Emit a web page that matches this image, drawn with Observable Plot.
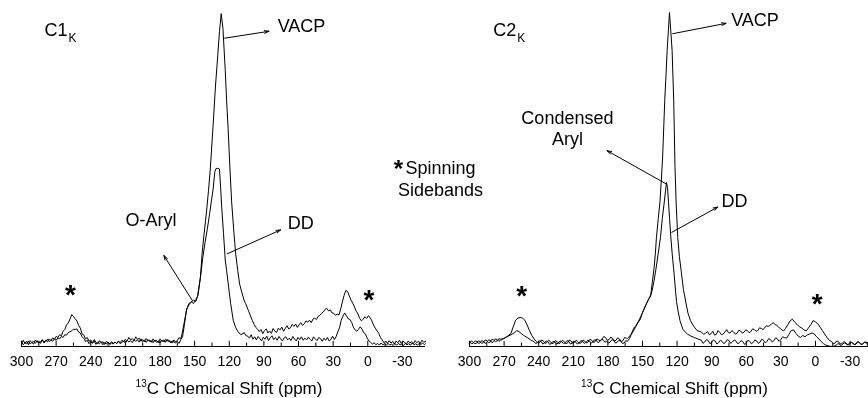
<!DOCTYPE html>
<html><head><meta charset="utf-8">
<script src="https://cdn.jsdelivr.net/npm/d3@7"></script>
<script src="https://cdn.jsdelivr.net/npm/@observablehq/plot@0.6"></script>
<style>
body{margin:0;background:#fff;}
#wrap{position:relative;width:868px;height:398px;overflow:hidden;background:#fff;}
#wrap svg{position:absolute;top:0;overflow:visible;background:transparent;will-change:transform;}
</style></head><body><div id="wrap"></div>
<script>
// ---- data: [ppm, intensity (a.u., 0-100)] ----
const c1VACP = [[300,0.6],[298.5,1.8],[297,0.9],[295.5,1.5],[294,0.5],[292.5,1.7],[291,1.1],[289.5,0.7],[288,1.9],[286.5,1.2],[285,1.6],[283.5,0.9],[282,2.0],[280.5,1.3],[279,1.8],[277.5,1.4],[276,2.2],[274.5,1.7],[273,2.5],[271.5,2.1],[270,2.9],[268.5,2.6],[267,3.4],[265.5,3.1],[264,4.4],[262.5,4.9],[261,6.2],[259.5,6.8],[258,7.9],[256.5,9.2],[255,8.7],[253.5,8.0],[252,7.4],[250.5,6.1],[249,5.3],[247.5,3.6],[246,3.3],[244.5,2.2],[243,2.6],[241.5,1.5],[240,1.9],[238.5,1.0],[237,2.0],[235.5,1.2],[234,0.8],[232.5,1.7],[231,1.0],[229.5,1.4],[228,0.6],[226.5,1.5],[225,1.1],[223.5,0.7],[222,1.4],[220.5,0.9],[219,1.3],[217.5,0.8],[216,1.6],[214.5,1.1],[213,1.8],[211.5,1.4],[210,2.1],[208.5,1.6],[207,2.6],[205.5,1.9],[204,2.3],[202.5,1.7],[201,2.8],[199.5,2.0],[198,2.4],[196.5,1.5],[195,2.0],[193.5,1.4],[192,2.3],[190.5,1.6],[189,1.9],[187.5,1.2],[186,2.2],[184.5,1.5],[183,1.8],[181.5,1.1],[180,2.2],[178.5,1.5],[177,1.9],[175.5,1.2],[174,2.1],[172.5,1.4],[171,1.6],[169.5,1.0],[168,1.9],[166.5,1.3],[165,1.7],[163.5,2.6],[162,2.2],[161,3.5],[159,7.0],[157,10.5],[155,12.4],[153,12.8],[151,13.4],[149,13.0],[147,15.0],[145,20],[143.5,27],[142,32],[140,38],[138,45],[136.5,51],[134,64],[132,75],[130,84],[128.5,91],[127,96.2],[125.5,92],[124.5,86],[123.5,80],[122.3,71],[121,63],[119.5,52],[118,42],[116,33],[114.5,27],[112.7,22],[111,18],[109,15.5],[107,13.2],[105.8,12.4],[103,10],[100,7.5],[98.5,6.4],[97,5.5],[95.5,5.0],[94,4.3],[92.5,4.9],[91,3.7],[89.5,4.6],[88,5.1],[86.5,3.9],[85,4.5],[83.5,3.8],[82,5.2],[80.5,4.4],[79,4.1],[77.5,5.3],[76,4.8],[74.5,5.6],[73,4.4],[71.5,5.2],[70,6.0],[68.5,5.1],[67,5.4],[65.5,6.4],[64,5.8],[62.5,6.5],[61,5.5],[59.5,6.3],[58,6.9],[56.5,6.1],[55,6.6],[53.5,7.4],[52,7.0],[50.5,7.6],[49,6.9],[47.5,7.9],[46,8.2],[44.5,7.8],[43,8.7],[41.5,9.0],[40,9.6],[38.5,10.0],[37,10.7],[35.5,11.0],[34,10.3],[32.5,10.6],[31,9.7],[29.5,9.6],[28,9.0],[26.5,9.4],[25,9.1],[23.5,10.8],[22,12.9],[20.5,14.8],[19,16.2],[17.5,15.9],[16,14.6],[14.5,13.4],[13,12.5],[11.5,11.4],[10,10.2],[8.5,9.4],[7,8.1],[5.5,7.4],[4,7.9],[2.5,8.6],[1,8.1],[-0.5,8.9],[-2,8.4],[-3.5,7.4],[-5,6.2],[-6.5,5.3],[-8,4.5],[-9.5,3.8],[-11,2.6],[-12.5,1.9],[-14,1.1],[-15.5,1.6],[-17,0.9],[-18.5,1.7],[-20,1.0],[-21.5,1.5],[-23,0.7],[-24.5,1.6],[-26,1.1],[-27.5,1.8],[-29,0.9],[-30.5,1.5],[-32,1.2],[-33.5,0.7],[-35,1.6],[-36.5,1.0],[-38,1.4],[-39.5,0.8],[-41,1.7],[-42.5,1.1],[-44,1.5],[-45.5,0.9],[-47,1.8],[-48.5,1.2],[-50,1.5]];

const c1DD = [[300,1.3],[298.5,0.5],[297,1.1],[295.5,0.8],[294,1.6],[292.5,0.7],[291,1.2],[289.5,1.5],[288,0.9],[286.5,1.7],[285,1.0],[283.5,1.4],[282,1.8],[280.5,1.0],[279,1.5],[277.5,2.1],[276,1.4],[274.5,1.9],[273,1.5],[271.5,2.2],[270,1.8],[268.5,2.5],[267,2.2],[265.5,2.9],[264,2.6],[262.5,3.4],[261,3.3],[259.5,4.0],[258,4.3],[256.5,4.5],[255,5.0],[253.5,4.9],[252,5.1],[250.5,4.2],[249,3.9],[247.5,2.8],[246,2.3],[244.5,1.4],[243,1.8],[241.5,0.8],[240,1.4],[238.5,0.9],[237,1.6],[235.5,0.6],[234,1.2],[232.5,0.8],[231,1.4],[229.5,0.5],[228,1.1],[226.5,0.7],[225,1.3],[223.5,0.6],[222,1.0],[220.5,0.7],[219,1.3],[217.5,0.9],[216,1.5],[214.5,0.8],[213,1.2],[211.5,1.6],[210,1.0],[208.5,1.8],[207,1.3],[205.5,1.7],[204,1.1],[202.5,2.0],[201,1.5],[199.5,1.9],[198,1.3],[196.5,2.2],[195,1.4],[193.5,1.8],[192,1.2],[190.5,2.0],[189,1.4],[187.5,1.7],[186,1.1],[184.5,1.9],[183,1.2],[181.5,1.6],[180,1.0],[178.5,1.8],[177,1.3],[175.5,2.0],[174,1.5],[172.5,1.9],[171,1.1],[169.5,1.6],[168,1.3],[166.5,1.0],[165,1.5],[163.5,0.9],[162,2.0],[160.5,2.8],[159,6.0],[157,10.8],[155,12.0],[153,13.0],[151,12.4],[149,13.6],[147.5,14.5],[145,19.9],[143,25.5],[141,30],[139,34],[137,38.4],[135.5,42],[134,45.5],[132.5,50.5],[131.5,51.4],[130,51.5],[128.5,51.3],[127.5,46],[126.5,40],[125,32.7],[123.5,25],[122.3,22],[120.5,17],[118.8,12.4],[116.5,7.5],[114.5,5.5],[112.7,4.4],[110,3.4],[107,4.0],[105.5,3.1],[104,3.0],[102.5,2.4],[101,3.4],[99.5,2.1],[98,2.8],[96.5,1.9],[95,2.9],[93.5,2.3],[92,1.6],[90.5,2.7],[89,2.1],[87.5,3.0],[86,1.7],[84.5,2.5],[83,3.1],[81.5,2.0],[80,2.6],[78.5,1.8],[77,2.9],[75.5,2.2],[74,1.6],[72.5,2.5],[71,2.8],[69.5,1.9],[68,2.4],[66.5,1.7],[65,2.9],[63.5,2.2],[62,1.6],[60.5,2.6],[59,2.0],[57.5,2.8],[56,1.8],[54.5,2.4],[53,1.9],[51.5,2.7],[50,2.1],[48.5,1.6],[47,2.8],[45.5,2.2],[44,1.7],[42.5,2.6],[41,2.3],[39.5,1.5],[38,2.4],[36.5,1.8],[35,2.6],[33.5,1.6],[32,2.0],[30.5,3.0],[29,2.0],[27.5,2.8],[26,4.2],[24.5,5.4],[23,7.6],[21.5,8.8],[20,9.7],[18.5,8.9],[17,8.0],[15.5,7.8],[14,7.0],[12.5,5.6],[11,4.8],[9.5,4.4],[8,5.0],[6.5,5.7],[5,5.0],[3.5,4.0],[2,3.6],[0.5,2.4],[-1,1.6],[-2.5,1.2],[-4,0.7],[-5.5,1.1],[-7,0.5],[-8.5,0.9],[-10,0.4],[-11.5,1.0],[-13,0.5],[-14.5,0.8],[-16,0.3],[-17.5,0.9],[-19,0.4],[-20.5,0.7],[-22,0.3],[-23.5,0.8],[-25,0.4],[-26.5,0.9],[-28,0.5],[-29.5,0.7],[-31,0.3],[-32.5,0.9],[-34,0.5],[-35.5,0.8],[-37,0.4],[-38.5,1.0],[-40,0.5],[-41.5,0.8],[-43,0.4],[-44.5,0.9],[-46,0.6],[-47.5,1.0],[-49,0.5],[-50,0.8]];

const c2VACP = [[300,1.0],[298.5,1.6],[297,1.3],[295.5,0.8],[294,0.9],[292.5,1.6],[291,1.5],[289.5,0.9],[288,1.1],[286.5,1.9],[285,1.7],[283.5,1.1],[282,1.3],[280.5,2.1],[279,1.9],[277.5,1.4],[276,1.6],[274.5,2.3],[273,2.1],[270,2.3],[267,3.0],[264,3.8],[262,5.8],[260,7.6],[258,8.2],[256,8.4],[254,8.2],[252,7.6],[250,6.2],[248,4.6],[246,3.2],[244,2.2],[242,1.4],[240.5,1.0],[239,1.2],[237.5,1.9],[236,1.6],[234.5,0.9],[233,1.1],[231.5,1.8],[230,1.5],[228.5,0.8],[227,1.0],[225.5,1.7],[224,1.4],[222.5,0.8],[221,1.1],[219.5,1.8],[218,1.5],[216.5,0.8],[215,1.0],[213.5,1.9],[212,1.6],[210.5,0.9],[209,1.2],[207.5,1.8],[206,1.4],[204.5,0.9],[203,1.1],[201.5,1.9],[200,1.5],[198.5,1.0],[197,1.3],[195.5,2.1],[194,1.8],[192.5,1.2],[191,1.4],[189.5,2.2],[188,1.9],[186.5,1.6],[185,2.2],[183.5,2.9],[182,2.6],[180.5,1.8],[179,2.0],[177.5,2.7],[176,2.4],[174.5,1.6],[173,1.8],[171.5,2.5],[170,2.2],[168.5,1.5],[167,1.7],[165.5,2.6],[164,2.4],[163,2.3],[159,3.8],[157,5.0],[154.6,6.6],[152,7.8],[150.3,9.5],[148.5,11.0],[146.6,12.4],[144.5,13.8],[142.8,15],[141.5,18.5],[140,22.5],[138.8,27],[137.9,31.5],[136.3,37],[134.8,42],[133.5,49],[132.5,55],[130.7,71],[129.5,79],[128.6,85.5],[127.5,91.5],[126.6,96.5],[125.5,91.5],[124.3,85.5],[122.9,71],[121.8,52],[120.8,41.5],[119.4,31.5],[118,26],[116.5,22],[114.5,16.5],[112.3,12.6],[110.5,9.6],[108.4,7.5],[105.5,5.8],[102.6,4.6],[99,4.2],[97,3.5],[95.4,3.8],[93.5,4.3],[92,3.4],[90.5,3.7],[89,4.4],[87.5,3.3],[86,3.5],[84.5,4.6],[83,4.1],[81.5,3.4],[80,3.6],[78.5,4.2],[77,4.9],[75.5,4.0],[74,3.9],[72.5,4.6],[71,4.2],[69.5,3.6],[68,3.8],[66.5,4.7],[65,4.5],[63.5,3.9],[62,4.1],[60.5,4.8],[59,4.6],[57.5,4.0],[56,4.3],[54.5,5.1],[53,4.9],[51.5,4.4],[50,4.6],[48.5,5.4],[47,5.2],[45.5,4.9],[44,5.4],[42.5,6.0],[41,5.8],[39.5,6.1],[38,6.5],[36.5,6.9],[35,6.3],[33.5,6.1],[32,5.6],[30.5,5.2],[29,4.8],[27.5,4.5],[26,5.2],[24,6.3],[22,7.4],[20,7.9],[18,7.0],[16,6.4],[14,5.7],[12,5.4],[10,4.8],[8,4.5],[6,5.4],[4,6.3],[2,7.5],[0,7.1],[-2,6.6],[-4,5.6],[-6,4.6],[-8,3.6],[-10,2.6],[-12,1.8],[-14,1.4],[-15.5,0.8],[-17,1.0],[-18.5,1.6],[-20,1.4],[-21.5,0.7],[-23,0.8],[-24.5,1.4],[-26,1.2],[-27.5,0.6],[-29,0.7],[-30.5,1.3],[-32,1.1],[-33.5,0.6],[-35,0.8],[-36.5,1.4],[-38,1.2],[-39.5,0.6],[-41,0.7],[-42.5,1.3],[-44,1.0],[-46,0.8]];

const c2DD = [[300,1.4],[298.5,0.8],[297,0.9],[295.5,1.5],[294,1.6],[292.5,0.9],[291,1.0],[289.5,1.7],[288,1.5],[286.5,0.9],[285,1.2],[283.5,1.9],[282,1.8],[280.5,1.1],[279,1.4],[277.5,2.2],[276,2.0],[274.5,1.5],[273,1.8],[270,2.4],[267,2.9],[264,3.4],[261,4.0],[259,4.6],[257,4.3],[255,3.7],[253,3.2],[250,2.6],[247,1.9],[244,1.4],[242.5,0.8],[241,1.2],[239.5,1.7],[238,1.5],[236.5,0.7],[235,1.0],[233.5,1.6],[232,1.4],[230.5,0.6],[229,0.9],[227.5,1.5],[226,1.3],[224.5,0.7],[223,1.0],[221.5,1.6],[220,1.4],[218.5,0.8],[217,1.1],[215.5,1.7],[214,1.5],[212.5,0.7],[211,1.0],[209.5,1.6],[208,1.3],[206.5,0.7],[205,1.0],[203.5,1.7],[202,1.5],[200.5,0.9],[199,1.2],[197.5,1.8],[196,1.6],[194.5,1.0],[193,1.3],[191.5,2.0],[190,1.8],[188.5,1.1],[187,1.5],[185.5,2.1],[184,1.9],[182.5,1.2],[181,1.6],[179.5,1.0],[178,1.3],[176.5,2.0],[175,1.8],[173.5,1.0],[172,1.2],[170.5,1.8],[169,1.6],[167.5,0.9],[166,1.0],[164.5,1.7],[163,1.5],[161,2.4],[159,4.2],[157,5.6],[155,6.2],[153,7.6],[151,9.0],[149,10.5],[147,12.0],[145,13.4],[143,14.5],[141.6,16.2],[140,19],[138.5,22],[136.5,26.5],[134.4,31.5],[132.8,37],[131.2,41.5],[130,45],[129.2,47.4],[128.3,46],[127.5,42],[126.5,37],[125.5,32],[124.3,27],[123,22.5],[121.7,17.5],[120.5,13],[119,10],[117.5,7.5],[115,5.0],[113,4.2],[111,3.6],[108,3.0],[105,2.6],[102,2.2],[99,1.8],[97.5,0.9],[96,1.3],[94.5,2.0],[93,1.7],[91.5,0.8],[90,1.2],[88.5,1.9],[87,1.6],[85.5,0.7],[84,1.1],[82.5,1.8],[81,1.5],[79.5,0.8],[78,1.2],[76.5,2.0],[75,1.7],[73.5,0.9],[72,1.3],[70.5,1.9],[69,1.6],[67.5,0.8],[66,1.1],[64.5,1.7],[63,1.4],[61.5,0.6],[60,1.0],[58.5,1.8],[57,1.5],[55.5,0.8],[54,1.2],[52.5,1.9],[51,1.6],[49.5,0.9],[48,1.3],[46.5,2.1],[45,1.8],[43.5,1.0],[42,1.5],[40.5,2.3],[39,2.0],[37.5,1.3],[36,1.7],[34.5,2.5],[33,2.2],[31.5,1.5],[30,2.0],[28.5,2.8],[27,2.6],[25,2.4],[23,3.5],[21,4.6],[19,4.8],[17,3.8],[15,3.0],[13,2.6],[11,3.2],[9,2.8],[7,3.4],[5,3.6],[3,3.9],[1,3.6],[-1,2.8],[-3,2.2],[-5,1.4],[-7,0.8],[-9,0.4],[-12,0.1],[-15,0.0],[-18,0.3],[-19.5,0.9],[-21,0.5],[-22.5,0.3],[-24,0.8],[-25.5,1.1],[-27,0.6],[-28.5,0.4],[-30,0.9],[-31.5,1.2],[-33,0.7],[-34.5,0.5],[-36,1.0],[-37.5,1.3],[-39,0.8],[-40.5,0.6],[-42,1.1],[-43.5,1.3],[-46,0.9]];

const majorTicks = [300,270,240,210,180,150,120,90,60,30,0,-30];
const minorTicks = [285,255,225,195,165,135,105,75,45,15,-15,-45];
const axisTitle = ["13", "C Chemical Shift (ppm)"];

// annotations (data coordinates: ppm, intensity)
const c1Labels = [
  {x: 280.1, y: 91.3, text: "C1", anchor: "start", size: 18},
  {x: 259.3, y: 89.0, text: "K", anchor: "start", size: 12},
  {x: 78.1, y: 92.6, text: "VACP", anchor: "start", size: 18},
  {x: 187.8, y: 36.4, text: "O-Aryl", anchor: "middle", size: 18},
  {x: 58.1, y: 35.5, text: "DD", anchor: "middle", size: 18}
];
const c1Arrows = [
  {x1: 124.0, y1: 89.1, x2: 85.6, y2: 91.1},
  {x1: 152.0, y1: 13.3, x2: 176.7, y2: 26.3},
  {x1: 121.7, y1: 26.8, x2: 75.5, y2: 33.7}
];
const c1Stars = [{x: 257.6, y: 16.8, size: 28}, {x: -1.1, y: 15.3, size: 28}];

const c2Labels = [
  {x: 279.3, y: 91.3, text: "C2", anchor: "start", size: 18},
  {x: 258.5, y: 89.0, text: "K", anchor: "start", size: 12},
  {x: 73.1, y: 94.4, text: "VACP", anchor: "start", size: 18},
  {x: 215.1, y: 65.9, text: "Condensed", anchor: "middle", size: 18},
  {x: 215.1, y: 59.8, text: "Aryl", anchor: "middle", size: 18},
  {x: 70.3, y: 42.0, text: "DD", anchor: "middle", size: 18},
  {x: 325.2, y: 51.6, text: "Spinning", anchor: "middle", size: 18},
  {x: 325.2, y: 45.1, text: "Sidebands", anchor: "middle", size: 18}
];
const c2Arrows = [
  {x1: 123.8, y1: 90.4, x2: 77.5, y2: 93.4},
  {x1: 129.5, y1: 47.0, x2: 180.7, y2: 56.6},
  {x1: 124.6, y1: 33.0, x2: 84.7, y2: 40.3}
];
const c2Stars = [{x: 254.7, y: 16.4, size: 28}, {x: -1.5, y: 14.2, size: 28}, {x: 361.7, y: 52.9, size: 24}];

const FONT = "'Liberation Sans', Arial, Helvetica, sans-serif";

function panel({vacp, dd, domain, marginLeft, marginRight, labels, arrows, stars}) {
  const textMarks = [];
  for (const a of ["start", "middle"]) {
    for (const s of [...new Set(labels.map(d => d.size))]) {
      const sub = labels.filter(d => d.anchor === a && d.size === s);
      if (sub.length) textMarks.push(Plot.text(sub, {x: "x", y: "y", text: "text", textAnchor: a, lineAnchor: "middle", fontSize: s, fill: "#000"}));
    }
  }
  const starMarks = [...new Set(stars.map(d => d.size))].map(s =>
    Plot.text(stars.filter(d => d.size === s), {x: "x", y: "y", text: () => "*", textAnchor: "middle", lineAnchor: "middle", fontSize: s, fontWeight: "bold", fill: "black", dy: s * 0.24})
  );
  const svg = Plot.plot({
    width: 434, height: 398,
    marginTop: 0, marginBottom: 52, marginLeft, marginRight,
    style: {fontFamily: FONT, fontSize: "14px", color: "black", background: "transparent", overflow: "visible"},
    x: {domain, axis: null},
    y: {domain: [0, 100], axis: null},
    marks: [
      Plot.ruleY([0], {stroke: "black", strokeWidth: 1}),
      Plot.ruleX(majorTicks, {x: d => d, y1: 0, y2: 1.5, stroke: "black", strokeWidth: 1}),
      Plot.ruleX(minorTicks, {x: d => d, y1: 0, y2: 1.0, stroke: "black", strokeWidth: 1}),
      Plot.axisX({ticks: majorTicks, tickSize: 0, tickPadding: 10, tickFormat: d => String(d), fontSize: 14, label: null, fill: "black"}),
      Plot.line(dd, {x: d => d[0], y: d => d[1], stroke: "black", strokeWidth: 1}),
      Plot.line(vacp, {x: d => d[0], y: d => d[1], stroke: "black", strokeWidth: 1}),
      Plot.arrow(arrows, {x1: "x1", y1: "y1", x2: "x2", y2: "y2", stroke: "black", strokeWidth: 1, headLength: 7, headAngle: 35}),
      ...textMarks,
      ...starMarks
    ]
  });
  const xs = svg.scale("x");
  const cx = (xs.range[0] + xs.range[1]) / 2 + 6;
  const t = d3.select(svg).append("text")
    .attr("x", cx).attr("y", 394).attr("text-anchor", "middle")
    .attr("font-family", FONT).attr("font-size", 17).attr("fill", "black");
  t.append("tspan").attr("font-size", 10).attr("dy", -7).text(axisTitle[0]);
  t.append("tspan").attr("dy", 7).text(axisTitle[1]);
  return svg;
}

const wrap = document.getElementById("wrap");
const p1 = panel({vacp: c1VACP, dd: c1DD, domain: [300, -50], marginLeft: 21, marginRight: 9, labels: c1Labels, arrows: c1Arrows, stars: c1Stars});
p1.style.left = "0px";
const p2 = panel({vacp: c2VACP, dd: c2DD, domain: [300, -46], marginLeft: 35, marginRight: 0, labels: c2Labels, arrows: c2Arrows, stars: c2Stars});
p2.style.left = "434px";
wrap.appendChild(p1);
wrap.appendChild(p2);
</script></body></html>
